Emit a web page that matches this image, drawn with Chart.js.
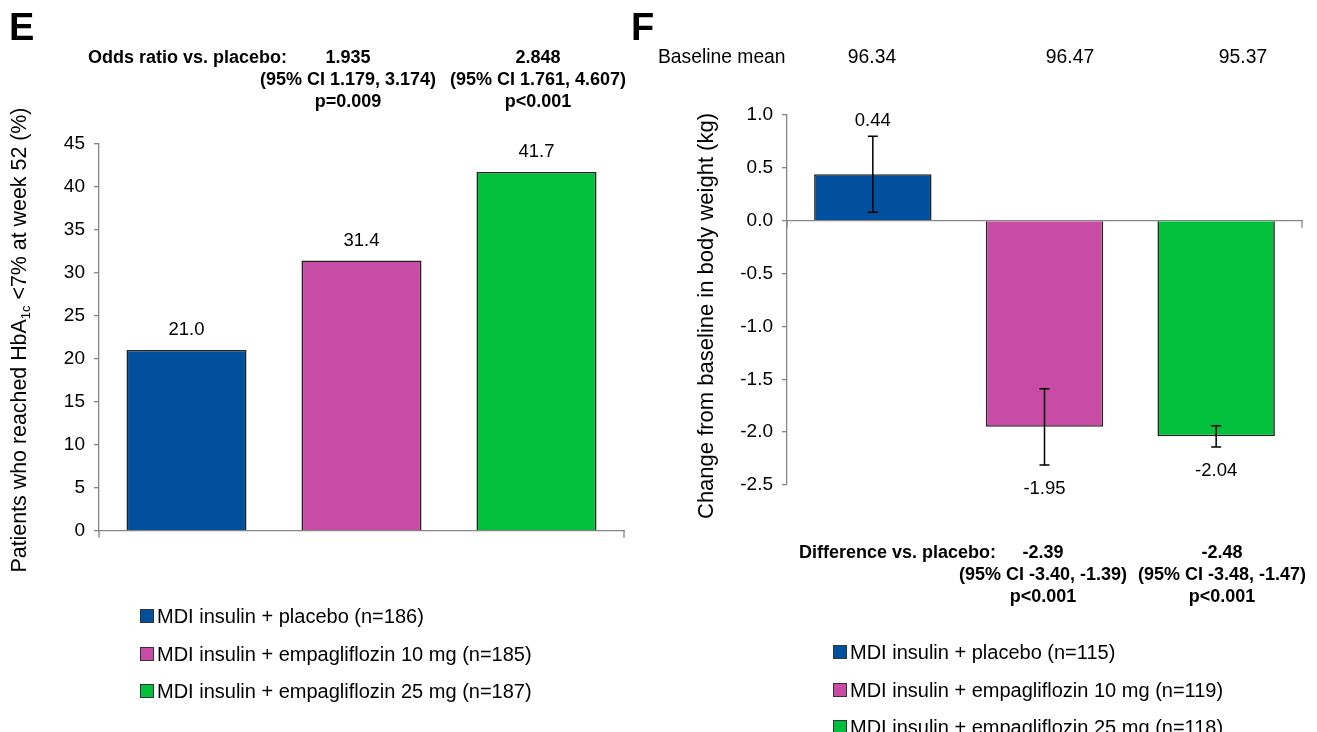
<!DOCTYPE html>
<html>
<head>
<meta charset="utf-8">
<script src="https://cdn.jsdelivr.net/npm/chart.js@4.4.1/dist/chart.umd.min.js"></script>
<style>
  body { margin: 0; background: #fff; font-family: "Liberation Sans", Arial, sans-serif; }
  #page { position: relative; width: 1317px; height: 732px; overflow: hidden; background: #fff; }
  canvas { position: absolute; top: 0; }
  .t { position: absolute; white-space: nowrap; color: #000; line-height: 1; }
  .c { transform: translate(-50%, -50%); }
  .l { transform: translate(0, -50%); }
  .b { font-weight: bold; font-size: 18px; }
  .panel { font-weight: bold; font-size: 38px; }
  .reg { font-size: 19.3px; }
  .ytitle { font-size: 21.4px; transform: translate(-50%, -50%) rotate(-90deg); }
  .ytitle sub { font-size: 13px; vertical-align: -4px; }
  .yt2 { font-size: 22px; }
  .leg { font-size: 20px; }
  .box { position: absolute; width: 12px; height: 12px; border: 1px solid #333; transform: translate(0, -50%); }
</style>
</head>
<body>
<div id="page">
  <canvas id="chartE" width="650" height="732" style="left:0"></canvas>
  <canvas id="chartF" width="667" height="732" style="left:650px"></canvas>
</div>
<script>
// --- dados ---
const groups = ["MDI insulin + placebo", "MDI insulin + empagliflozin 10 mg", "MDI insulin + empagliflozin 25 mg"];
const colors = ["#00509E", "#C84CA5", "#00C03C"];

// painel E: HbA1c <7%
const hba1cN = [186, 185, 187];
const hba1cPct = [21.0, 31.4, 41.7];
const oddsRatio = ["1.935", "2.848"];
const oddsCI = ["(95% CI 1.179, 3.174)", "(95% CI 1.761, 4.607)"];
const oddsP = ["p=0.009", "p<0.001"];

// painel F: peso corporal
const weightN = [115, 119, 118];
const weightChange = [0.44, -1.95, -2.04];
const weightErr = [0.36, 0.36, 0.10];
const weightBaseline = ["96.34", "96.47", "95.37"];
const diffMean = ["-2.39", "-2.48"];
const diffCI = ["(95% CI -3.40, -1.39)", "(95% CI -3.48, -1.47)"];
const diffP = ["p<0.001", "p<0.001"];

const FONT = "'Liberation Sans', Arial, sans-serif";
const AXIS_COLOR = "#868686";
const page = document.getElementById("page");

// helper para texto html
const addText = (txt, x, y, cls) => {
  const d = document.createElement("div");
  d.className = "t " + cls;
  d.style.left = x + "px";
  d.style.top = y + "px";
  d.innerHTML = txt;
  page.appendChild(d);
  return d;
};

// rótulos de valor + barras de erro
const barExtras = {
  id: "barExtras",
  afterDatasetsDraw(chart, args, opts) {
    const ctx = chart.ctx;
    const ys = chart.scales.y;
    const meta = chart.getDatasetMeta(0);
    const vals = chart.data.datasets[0].data;
    const errs = opts.errors || vals.map(() => 0);
    ctx.save();
    meta.data.forEach((bar, i) => {
      const v = vals[i], e = errs[i];
      if (e > 0) {
        const yHi = ys.getPixelForValue(v + e);
        const yLo = ys.getPixelForValue(v - e);
        ctx.strokeStyle = "#000";
        ctx.lineWidth = 1.5;
        ctx.beginPath();
        ctx.moveTo(bar.x, yHi); ctx.lineTo(bar.x, yLo);
        ctx.moveTo(bar.x - 5, yHi); ctx.lineTo(bar.x + 5, yHi);
        ctx.moveTo(bar.x - 5, yLo); ctx.lineTo(bar.x + 5, yLo);
        ctx.stroke();
      }
      ctx.fillStyle = "#000";
      ctx.font = "18.5px " + FONT;
      ctx.textAlign = "center";
      ctx.textBaseline = "middle";
      let y;
      if (v >= 0) y = ys.getPixelForValue(v + e) - opts.above;
      else y = ys.getPixelForValue(v - e) + opts.below;
      ctx.fillText(v.toFixed(opts.decimals), bar.x, y);
    });
    ctx.restore();
  }
};

// pequenos traços nas pontas do eixo x
const endTicks = {
  id: "endTicks",
  afterDraw(chart) {
    const ctx = chart.ctx;
    const a = chart.chartArea;
    const y0 = chart.scales.y.getPixelForValue(0);
    ctx.save();
    ctx.strokeStyle = AXIS_COLOR;
    ctx.lineWidth = 1.3;
    ctx.beginPath();
    ctx.moveTo(a.left, y0); ctx.lineTo(a.left, y0 + 7);
    ctx.moveTo(a.right, y0); ctx.lineTo(a.right, y0 + 7);
    ctx.stroke();
    ctx.restore();
  }
};

const baseScales = (yMin, yMax, yWidth, fmt) => ({
  x: {
    grid: { display: false },
    ticks: { display: false },
    border: { color: AXIS_COLOR, width: 1.3 },
    afterFit: (s) => { s.height = 0; }
  },
  y: {
    min: yMin, max: yMax,
    ticks: { stepSize: yMin < 0 ? 0.5 : 5, color: "#000", font: { size: 19, family: FONT }, padding: 9, callback: fmt },
    grid: { drawOnChartArea: false, tickLength: 5, color: AXIS_COLOR, lineWidth: 1.3 },
    border: { color: AXIS_COLOR, width: 1.3 },
    afterFit: (s) => { s.width = yWidth; }
  }
});

// --- Painel E ---
new Chart(document.getElementById("chartE"), {
  type: "bar",
  data: {
    labels: groups,
    datasets: [{
      data: hba1cPct,
      backgroundColor: colors,
      borderColor: "#222",
      borderWidth: 1.6,
      barPercentage: 1,
      categoryPercentage: 0.686
    }]
  },
  options: {
    responsive: false,
    animation: false,
    layout: { padding: { top: 143.5, left: 0, right: 26, bottom: 201.3 } },
    plugins: {
      legend: { display: false },
      tooltip: { enabled: false },
      barExtras: { above: 20, below: 22, decimals: 1 }
    },
    scales: baseScales(0, 45, 99, (v) => v)
  },
  plugins: [barExtras, endTicks]
});

// --- Painel F ---
new Chart(document.getElementById("chartF"), {
  type: "bar",
  data: {
    labels: groups,
    datasets: [{
      data: weightChange,
      backgroundColor: colors,
      borderColor: "#222",
      borderWidth: 1.6,
      barPercentage: 1,
      categoryPercentage: 0.684
    }]
  },
  options: {
    responsive: false,
    animation: false,
    layout: { padding: { top: 115, left: 0, right: 15, bottom: 247 } },
    plugins: {
      legend: { display: false },
      tooltip: { enabled: false },
      barExtras: { errors: weightErr, above: 15, below: 24, decimals: 2 }
    },
    scales: (() => {
      const s = baseScales(-2.5, 1.0, 137, (v) => Number(v).toFixed(1));
      s.x.position = { y: 0 };
      return s;
    })()
  },
  plugins: [barExtras, endTicks]
});

// --- textos painel E ---
addText("E", 9, 27, "l panel");
addText("Odds ratio vs. placebo:", 88, 57, "l b");
[348, 538].forEach((cx, i) => {
  addText(oddsRatio[i], cx, 57, "c b");
  addText(oddsCI[i], cx, 79, "c b");
  addText(oddsP[i], cx, 101, "c b");
});
addText("Patients who reached HbA<sub>1c</sub> &lt;7% at week 52 (%)", 20, 340, "ytitle");

// --- textos painel F ---
addText("F", 631, 27, "l panel");
addText("Baseline mean", 658, 57, "l reg");
[872, 1070, 1243].forEach((cx, i) => addText(weightBaseline[i], cx, 57, "c reg"));
addText("Difference vs. placebo:", 799, 552, "l b");
[1043, 1222].forEach((cx, i) => {
  addText(diffMean[i], cx, 552, "c b");
  addText(diffCI[i], cx, 574, "c b");
  addText(diffP[i], cx, 596, "c b");
});
addText("Change from baseline in body weight (kg)", 706, 316, "ytitle yt2");

// --- legendas ---
const legenda = (x, y0, ns) => {
  groups.forEach((g, i) => {
    const y = y0 + i * 37.5;
    const b = document.createElement("div");
    b.className = "box";
    b.style.left = x + "px";
    b.style.top = y + "px";
    b.style.background = colors[i];
    page.appendChild(b);
    addText(`${g} (n=${ns[i]})`, x + 17, y, "l leg");
  });
};
legenda(140, 616, hba1cN);
legenda(833, 652, weightN);
</script>
</body>
</html>
